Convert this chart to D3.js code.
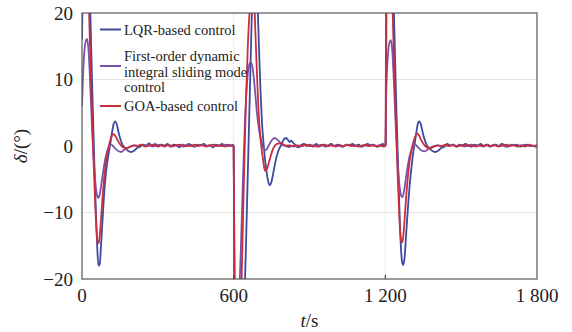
<!DOCTYPE html>
<html><head><meta charset="utf-8"><script src="https://cdn.jsdelivr.net/npm/d3@7"></script></head>
<body style="margin:0">
<div class="chart"></div>
<script>
const xTicks = [0, 600, 1200, 1800];
const xTickLabels = ["0", "600", "1 200", "1 800"];
const yTicks = [-20, -10, 0, 10, 20];
const yTickLabels = ["\u221220", "\u221210", "0", "10", "20"];

// [t (s), delta (deg)]
const lqr = [
  [0,16],[4,28],[10,36],[17,37],[24,31],[30,24],[35,17],[40,9.5],[45,2.5],[50,-4],[55,-10],[60,-15],[65,-18],[70,-17.8],[76,-14.5],[83,-10],[90,-6],[98,-3],[106,-1],[113,0.6],[120,2.3],[126,3.4],[132,3.7],[138,3.2],[145,2],[152,1],[160,0.2],[170,-0.3],[182,-0.7],[194,-0.9],[206,-0.7],[218,-0.3],
  [230,-0.1],[242,0.2],[254,0.1],[266,0.4],[278,0],[290,0.3],[302,-0.1],[314,0.2],[326,0.1],[338,0.3],[350,-0.1],[362,0.2],[374,0.1],[386,-0.2],[398,0.2],[410,0],[422,0.3],[434,0.1],[446,-0.1],[458,0.2],[470,0.1],[482,0.3],[494,0],[506,0.1],[518,-0.2],[530,0.2],[542,0.1],[554,0.3],[566,0],[578,0.2],[590,0.1],[597,0.2],
  [600,-0.1],[604,-28],[612,-40],[624,-40],[634,-33],[642,-24],[648,-16],[656,-4],[664,8],[672,20],[680,27],[688,26],[694,22],[700,15],[706,8.5],[712,3.5],[718,0.5],[724,-2],[730,-3.8],[736,-5.2],[742,-5.9],[748,-5.6],[755,-4.4],[762,-3],[770,-1.6],[778,-0.6],[786,0],[794,0.7],[801,1.1],[808,1.2],[815,0.9],[822,0.6],[828,0.8],[835,0.5],[845,0.1],[855,-0.2],[866,0.1],
  [878,0.3],[890,0],[902,0.2],[914,-0.1],[926,0.3],[938,0.1],[950,0.2],[962,-0.1],[974,0.1],[986,0.3],[998,0],[1010,0.2],[1022,0.1],[1034,-0.1],[1046,0.2],[1058,0.1],[1070,0.3],[1082,0],[1094,0.2],[1106,-0.1],[1118,0.1],[1130,0.3],[1142,0.1],[1154,0.2],[1166,-0.1],[1178,0.1],[1190,0.3],[1199,0.1],
  [1202,0.2],[1204,18],[1208,28],[1213,36],[1220,37],[1227,30],[1232,23],[1237,15.5],[1242,8],[1247,1.5],[1252,-5],[1257,-11],[1262,-15.5],[1267,-17.6],[1271,-17.9],[1276,-16.8],[1282,-13.5],[1289,-9.5],[1296,-6],[1304,-3],[1311,-0.8],[1318,0.8],[1324,2.4],[1330,3.5],[1335,3.7],[1341,3.2],[1348,2],[1355,1],[1363,0.2],[1373,-0.3],[1385,-0.7],[1397,-0.9],[1409,-0.7],[1421,-0.3],[1433,-0.1],
  [1445,0.3],[1457,0.1],[1469,0.2],[1481,-0.1],[1493,0.2],[1505,0],[1517,0.3],[1529,0.1],[1541,-0.1],[1553,0.2],[1565,0.1],[1577,0.3],[1589,0],[1601,0.2],[1613,-0.1],[1625,0.1],[1637,0.2],[1649,0],[1661,0.3],[1673,0.1],[1685,-0.1],[1697,0.2],[1709,0.1],[1721,0.2],[1733,-0.1],[1745,0.1],[1757,0.2],[1769,0],[1781,0.1],[1793,-0.1],[1800,0.1]
];

const fodism = [
  [0,6],[4,10.5],[9,14],[15,15.8],[20,16.1],[25,14.8],[30,11.5],[35,7],[40,2.5],[45,-1.2],[50,-4.2],[55,-6.3],[60,-7.5],[65,-7.8],[70,-7.3],[77,-5.6],[85,-3.5],[93,-1.8],[101,-0.6],[109,0],[117,0.2],[125,-0.1],[135,-0.5],[145,-0.8],[155,-0.9],[166,-0.6],[178,-0.3],[190,-0.1],
  [205,0.1],[220,0],[235,0.2],[250,0],[265,0.1],[280,-0.1],[295,0.1],[310,0.2],[325,0],[340,0.1],[355,-0.1],[370,0.1],[385,0],[400,0.2],[415,0],[430,0.1],[445,-0.1],[460,0.1],[475,0.2],[490,0],[505,0.1],[520,-0.1],[535,0.1],[550,0],[565,0.2],[580,0],[597,0.1],
  [600,0],[604,-22],[612,-27],[620,-24],[628,-16],[636,-6],[644,3],[652,9],[660,12],[668,12.6],[676,11.5],[684,8.5],[692,5],[700,2.5],[708,1],[716,-0.2],[723,-0.65],[730,-0.5],[738,0],[746,0.6],[754,1],[762,1.2],[772,1],[782,0.6],[792,0.2],[805,0],[818,-0.15],
  [832,0],[847,0.1],[862,-0.1],[877,0.1],[892,0.2],[907,0],[922,0.1],[937,-0.1],[952,0.1],[967,0],[982,0.2],[997,0],[1012,0.1],[1027,-0.1],[1042,0.1],[1057,0.2],[1072,0],[1087,0.1],[1102,-0.1],[1117,0.1],[1132,0],[1147,0.2],[1162,0],[1177,0.1],[1192,-0.1],[1200,0],
  [1203,7],[1207,11.5],[1212,14.5],[1217,15.6],[1222,15.9],[1227,14.6],[1232,11.2],[1237,6.8],[1242,2.3],[1247,-1.3],[1252,-4.3],[1257,-6.3],[1262,-7.4],[1267,-7.7],[1272,-7.2],[1279,-5.5],[1287,-3.4],[1295,-1.7],[1303,-0.6],[1311,0],[1319,0.2],[1327,-0.1],[1337,-0.5],[1347,-0.75],[1357,-0.8],[1368,-0.5],[1380,-0.2],[1392,0],
  [1407,0.1],[1422,-0.1],[1437,0.1],[1452,0],[1467,0.2],[1482,0],[1497,0.1],[1512,-0.1],[1527,0.1],[1542,0.2],[1557,0],[1572,0.1],[1587,-0.1],[1602,0.1],[1617,0],[1632,0.2],[1647,0],[1662,0.1],[1677,-0.1],[1692,0.1],[1707,0.2],[1722,0],[1737,0.1],[1752,-0.1],[1767,0.1],[1782,0],[1800,0.1]
];

const goa = [
  [0,22],[4,30],[10,34],[16,33],[22,27],[28,20],[34,12],[40,4.5],[46,-2.5],[52,-8.5],[57,-12.5],[62,-14.5],[66,-14.6],[71,-13.2],[78,-9.5],[86,-5.5],[94,-2.6],[102,-0.7],[110,0.6],[118,1.5],[125,1.8],[132,1.5],[142,0.8],[152,0.2],[164,-0.2],[178,-0.3],[192,-0.1],
  [206,0.1],[221,0],[236,0.2],[251,-0.1],[266,0.1],[281,0.2],[296,0],[311,0.1],[326,-0.1],[341,0.2],[356,0],[371,0.1],[386,0.2],[401,-0.1],[416,0.1],[431,0],[446,0.2],[461,0],[476,0.1],[491,-0.1],[506,0.1],[521,0.2],[536,0],[551,0.1],[566,-0.1],[581,0.1],[597,0],
  [600,-0.1],[603,-25],[610,-36],[618,-36],[626,-28],[632,-19],[640,-6],[648,6],[656,15],[664,21],[672,25],[680,23],[686,17],[692,11],[698,5.5],[704,2],[710,-0.3],[716,-2],[721,-3.3],[726,-3.75],[732,-3.4],[740,-2.4],[748,-1.3],[756,-0.4],[764,0.1],[774,0.35],[786,0.4],[798,0.2],[810,0.05],
  [824,0.1],[839,-0.1],[854,0.1],[869,0],[884,0.2],[899,0],[914,0.1],[929,-0.1],[944,0.1],[959,0.2],[974,0],[989,0.1],[1004,-0.1],[1019,0.1],[1034,0],[1049,0.2],[1064,0],[1079,0.1],[1094,-0.1],[1109,0.1],[1124,0.2],[1139,0],[1154,0.1],[1169,-0.1],[1184,0.1],[1199,0],
  [1201,0.1],[1203,22],[1207,30],[1212,34],[1218,33],[1224,26],[1229,20],[1235,12],[1241,4.5],[1247,-2.5],[1253,-8.5],[1258,-12.5],[1263,-14.3],[1267,-14.5],[1272,-13.2],[1279,-9.5],[1287,-5.5],[1295,-2.6],[1303,-0.7],[1311,0.6],[1319,1.5],[1326,1.9],[1333,1.6],[1343,0.8],[1353,0.2],[1365,-0.2],[1379,-0.3],[1393,-0.1],
  [1408,0.1],[1423,0],[1438,0.2],[1453,0],[1468,0.1],[1483,-0.1],[1498,0.1],[1513,0.2],[1528,0],[1543,0.1],[1558,-0.1],[1573,0.1],[1588,0],[1603,0.2],[1618,0],[1633,0.1],[1648,-0.1],[1663,0.1],[1678,0.2],[1693,0],[1708,0.1],[1723,-0.1],[1738,0.1],[1753,0],[1768,0.2],[1783,0],[1800,0.1]
];

const width = 572, height = 332;
const margin = { top: 13, right: 35, bottom: 53, left: 82 };
const colors = ["#3c4b9e", "#7a52aa", "#c92f3b"];
const fontName = "Liberation Serif";

const x = d3.scaleLinear().domain([0, 1800]).range([margin.left, width - margin.right]);
const y = d3.scaleLinear().domain([-20, 20]).range([height - margin.bottom, margin.top]);

const svg = d3.select(".chart").append("svg")
  .attr("width", width)
  .attr("height", height)
  .style("display", "block");

// every text gets the serif face set on itself
function addText(parent) {
  return parent.append("text")
    .attr("font-family", fontName)
    .style("font-family", "'" + fontName + "'")
    .attr("fill", "#222");
}

svg.append("clipPath").attr("id", "plotclip")
  .append("rect")
  .attr("x", x(0)).attr("y", y(20))
  .attr("width", x(1800) - x(0)).attr("height", y(-20) - y(20));

svg.append("g")
  .selectAll("line")
  .data([-10, 10])
  .enter().append("line")
  .attr("x1", x(0)).attr("x2", x(1800))
  .attr("y1", d => y(d)).attr("y2", d => y(d))
  .attr("stroke", "#e3e3e3").attr("stroke-width", 1.2);

svg.append("g")
  .selectAll("line")
  .data([600, 1200])
  .enter().append("line")
  .attr("x1", d => x(d)).attr("x2", d => x(d))
  .attr("y1", y(20)).attr("y2", y(-20))
  .attr("stroke", "#ececec").attr("stroke-width", 1);

const line = d3.line()
  .x(d => x(d[0]))
  .y(d => y(d[1]))
  .curve(d3.curveMonotoneX);

const lines = svg.append("g").attr("clip-path", "url(#plotclip)");
[lqr, fodism, goa].forEach((s, i) => {
  lines.append("path")
    .datum(s)
    .attr("fill", "none")
    .attr("stroke", colors[i])
    .attr("stroke-width", 1.8)
    .attr("stroke-linejoin", "round")
    .attr("d", line);
});

svg.append("rect")
  .attr("x", x(0)).attr("y", y(20))
  .attr("width", x(1800) - x(0)).attr("height", y(-20) - y(20))
  .attr("fill", "none")
  .attr("stroke", "#555")
  .attr("stroke-width", 1.2);

svg.append("g")
  .selectAll("line")
  .data(xTicks.slice(1, -1))
  .enter().append("line")
  .attr("x1", d => x(d)).attr("x2", d => x(d))
  .attr("y1", y(-20)).attr("y2", y(-20) - 4)
  .attr("stroke", "#444").attr("stroke-width", 1.2);

const xAxisG = svg.append("g");
xTicks.forEach((d, i) => {
  addText(xAxisG)
    .attr("x", x(d))
    .attr("y", 302)
    .attr("text-anchor", "middle")
    .attr("font-size", 19)
    .text(xTickLabels[i]);
});

const yAxisG = svg.append("g");
yTicks.forEach((d, i) => {
  addText(yAxisG)
    .attr("x", 73)
    .attr("y", y(d) + 6.5)
    .attr("text-anchor", "end")
    .attr("font-size", 19)
    .text(yTickLabels[i]);
});

const xt = addText(svg)
  .attr("x", (x(0) + x(1800)) / 2)
  .attr("y", 327)
  .attr("text-anchor", "middle")
  .attr("font-size", 19);
xt.append("tspan").attr("font-style", "italic").text("t");
xt.append("tspan").text("/s");

const yt = addText(svg)
  .attr("transform", "translate(27," + y(0) + ") rotate(-90)")
  .attr("text-anchor", "middle")
  .attr("font-size", 19);
yt.append("tspan").attr("font-style", "italic").text("\u03b4");
yt.append("tspan").text("/(\u00b0)");

const legendRows = [
  { lineY: 29.5, text: ["LQR-based control"], baseY: 34.5 },
  { lineY: 66, text: ["First-order dynamic", "integral sliding mode", "control"], baseY: 61 },
  { lineY: 106, text: ["GOA-based control"], baseY: 111 }
];
const legend = svg.append("g");
legendRows.forEach((r, i) => {
  legend.append("line")
    .attr("x1", 100).attr("x2", 121)
    .attr("y1", r.lineY).attr("y2", r.lineY)
    .attr("stroke", colors[i]).attr("stroke-width", 2);
  r.text.forEach((t, j) => {
    addText(legend)
      .attr("x", 124)
      .attr("y", r.baseY + j * 15.5)
      .attr("font-size", 14.5)
      .text(t);
  });
});
</script>
</body></html>
